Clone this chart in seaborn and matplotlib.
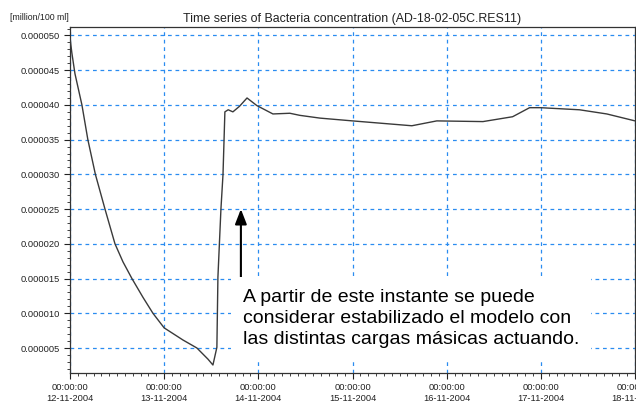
import numpy as np
import pandas as pd
import matplotlib
matplotlib.use("Agg")
import matplotlib.pyplot as plt
import matplotlib.dates as mdates
from matplotlib.ticker import MultipleLocator, FormatStrFormatter
import seaborn as sns

sns.set_style("white")
plt.rcParams['font.family'] = ['Liberation Sans', 'DejaVu Sans']

# data: days since 12-11-2004 00:00 and concentration
day_offsets = [0.0, 0.02, 0.053, 0.127, 0.19, 0.27, 0.372, 0.478, 0.563, 0.658, 0.775,
               0.881, 1.0, 1.2, 1.348, 1.465, 1.518, 1.56, 1.571, 1.603, 1.625, 1.645,
               1.68, 1.73, 1.80, 1.88, 1.985, 2.155, 2.335, 2.44, 2.655, 3.0, 3.63, 3.895,
               4.385, 4.70, 4.88, 5.0, 5.41, 5.70, 6.0]
concentration = [4.97e-5, 4.75e-5, 4.45e-5, 4.0e-5, 3.5e-5, 3.0e-5, 2.5e-5, 2.0e-5, 1.74e-5,
                 1.5e-5, 1.23e-5, 1.0e-5, 7.9e-6, 6.15e-6, 5.0e-6, 3.4e-6, 2.55e-6, 5.1e-6,
                 1.52e-5, 2.5e-5, 3.0e-5, 3.9e-5, 3.93e-5, 3.9e-5, 3.98e-5, 4.1e-5, 3.99e-5,
                 3.87e-5, 3.88e-5, 3.85e-5, 3.81e-5, 3.77e-5, 3.70e-5, 3.77e-5, 3.76e-5,
                 3.83e-5, 3.96e-5, 3.96e-5, 3.93e-5, 3.87e-5, 3.77e-5]
start_date = "2004-11-12"
title = "Time series of Bacteria concentration (AD-18-02-05C.RES11)"
unit_label = "[million/100 ml]"
note = ("A partir de este instante se puede\n"
        "considerar estabilizado el modelo con\n"
        "las distintas cargas másicas actuando.")

t0 = pd.Timestamp(start_date)
df = pd.DataFrame({
    "time": t0 + pd.to_timedelta(day_offsets, unit="D"),
    "value": concentration,
})

fig = plt.figure(figsize=(6.36, 4.05), dpi=100)
ax = fig.add_axes([0.110, 0.079, 0.8885, 0.854])

sns.lineplot(data=df, x="time", y="value", ax=ax, color="#3a3a3a", linewidth=1.0, zorder=4)

ax.set_xlim(t0, t0 + pd.Timedelta(days=6))
ax.set_ylim(1.4e-6, 5.12e-5)

ax.xaxis.set_major_locator(mdates.DayLocator())
ax.xaxis.set_minor_locator(mdates.HourLocator(byhour=range(0, 24, 2)))
ax.xaxis.set_major_formatter(mdates.DateFormatter("%H:%M:%S\n%d-%m-%Y"))
ax.yaxis.set_major_locator(MultipleLocator(5e-6))
ax.yaxis.set_minor_locator(MultipleLocator(1e-6))
ax.yaxis.set_major_formatter(FormatStrFormatter("%.6f"))

ax.tick_params(axis="both", which="major", direction="out", length=4, width=0.8,
               labelsize=6.7, colors="#222222", bottom=True, left=True)
ax.tick_params(axis="both", which="minor", direction="out", length=2.5, width=0.6,
               bottom=True, left=True, colors="#222222")
for lbl in ax.get_xticklabels():
    lbl.set_horizontalalignment("center")

ax.grid(True, which="major", color="#2a8cf0", linestyle=(0, (3, 3)), linewidth=0.9)
for s in ax.spines.values():
    s.set_color("#333333")
    s.set_linewidth(0.9)

ax.set_xlabel("")
ax.set_ylabel("")
ax.set_title(title, fontsize=8.9, color="#222222", pad=3.5)
fig.text(0.016, 0.957, unit_label, fontsize=6.3, color="#222222", ha="left", va="center")

# arrow and note
arrow_x = t0 + pd.Timedelta(days=1.815)
ax.annotate("", xy=(arrow_x, 2.5e-5), xytext=(arrow_x, 1.52e-5),
            arrowprops=dict(arrowstyle="-|>,head_width=0.35,head_length=0.9",
                            color="black", lw=1.5, shrinkA=0, shrinkB=0), zorder=5)
note_x = t0 + pd.Timedelta(days=1.835)
ax.text(note_x, 1.35e-5, note, fontsize=14, color="black", ha="left", va="top",
        linespacing=1.3, zorder=5,
        bbox=dict(facecolor="white", edgecolor="none", boxstyle="square,pad=0.6"))

fig.savefig("out.png", dpi=100)
